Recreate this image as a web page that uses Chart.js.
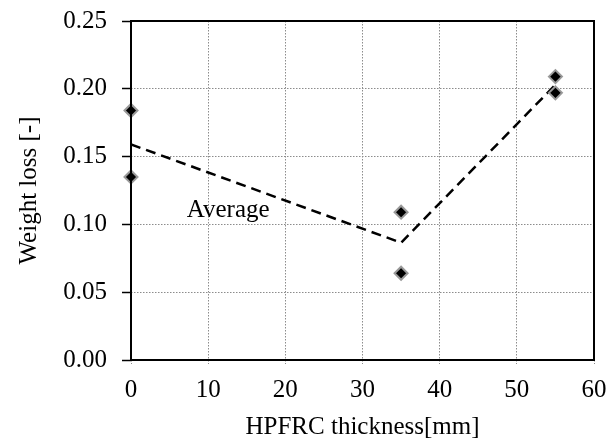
<!DOCTYPE html>
<html><head><meta charset="utf-8">
<script src="https://cdn.jsdelivr.net/npm/chart.js@4"></script>
<style>html,body{margin:0;padding:0;background:#fff}#wrap{width:608px;height:446px}</style>
</head><body><div id="wrap"><canvas id="c" width="608" height="446"></canvas></div>
<script>
const thickness = [0, 0, 35, 35, 55, 55];
const weightLoss = [0.184, 0.135, 0.109, 0.064, 0.209, 0.197];
const avgThickness = [0, 35, 55];
const avgWeightLoss = [0.159, 0.0865, 0.203];
const yTicks = [0, 0.05, 0.10, 0.15, 0.20, 0.25];
const xTicks = [0, 10, 20, 30, 40, 50, 60];
const labelText = 'Average';
const labelPos = {x: 12.6, y: 0.1055};

const FONT = '"Liberation Serif", "Times New Roman", serif';
const FS = 25;

const framePlugin = {
  id: 'frame',
  afterDraw(chart) {
    const {ctx, chartArea: a, scales} = chart;
    ctx.save();
    ctx.strokeStyle = '#000';
    ctx.lineWidth = 2;
    ctx.strokeRect(a.left, a.top, a.right - a.left, a.bottom - a.top);
    ctx.fillStyle = '#000';
    ctx.font = FS + 'px ' + FONT;
    ctx.textAlign = 'center';
    ctx.textBaseline = 'alphabetic';
    ctx.fillText(labelText, scales.x.getPixelForValue(labelPos.x), scales.y.getPixelForValue(labelPos.y));
    ctx.restore();
  }
};

new Chart(document.getElementById('c'), {
  type: 'scatter',
  data: {
    datasets: [
      {
        label: 'Average',
        type: 'line',
        data: avgThickness.map((x, i) => ({x, y: avgWeightLoss[i]})),
        borderColor: '#000',
        borderWidth: 2.5,
        borderDash: [10, 6],
        pointRadius: 0,
        fill: false,
        order: 2
      },
      {
        label: 'Data',
        data: thickness.map((x, i) => ({x, y: weightLoss[i]})),
        pointStyle: 'rectRot',
        pointRadius: 6.5,
        backgroundColor: '#000',
        borderColor: '#999',
        borderWidth: 2,
        clip: false,
        order: 1
      }
    ]
  },
  options: {
    responsive: false,
    animation: false,
    devicePixelRatio: 1,
    layout: {padding: {left: 0, right: 14, top: 21, bottom: 0}},
    plugins: {legend: {display: false}, tooltip: {enabled: false}},
    scales: {
      x: {
        type: 'linear', min: 0, max: 60,
        afterBuildTicks: s => { s.ticks = xTicks.map(v => ({value: v})); },
        afterFit: s => { s.height = 86; s.paddingLeft = 0; s.paddingRight = 0; },
        grid: {color: '#8c8c8c', lineWidth: 1, tickLength: 4, tickColor: '#8c8c8c', tickBorderDash: [1.5, 1.5]},
        border: {display: false, dash: [1.5, 1.5]},
        ticks: {color: '#000', font: {family: FONT, size: FS}, padding: 11, maxRotation: 0},
        title: {display: true, text: 'HPFRC thickness[mm]', color: '#000', font: {family: FONT, size: FS}, padding: {top: 2, bottom: 4}}
      },
      y: {
        type: 'linear', min: 0, max: 0.25,
        afterBuildTicks: s => { s.ticks = yTicks.map(v => ({value: v})); },
        afterFit: s => { s.width = 131; s.paddingTop = 0; s.paddingBottom = 0; },
        grid: {color: '#8c8c8c', lineWidth: 1, tickLength: 9, tickColor: '#000', tickBorderDash: [], tickWidth: 1.5},
        border: {display: false, dash: [1.5, 1.5]},
        ticks: {color: '#000', font: {family: FONT, size: FS}, padding: 15, callback: v => v.toFixed(2)},
        title: {display: true, text: 'Weight loss [-]', color: '#000', font: {family: FONT, size: FS}, padding: {top: 14, bottom: 8}}
      }
    }
  },
  plugins: [framePlugin]
});
</script></body></html>
